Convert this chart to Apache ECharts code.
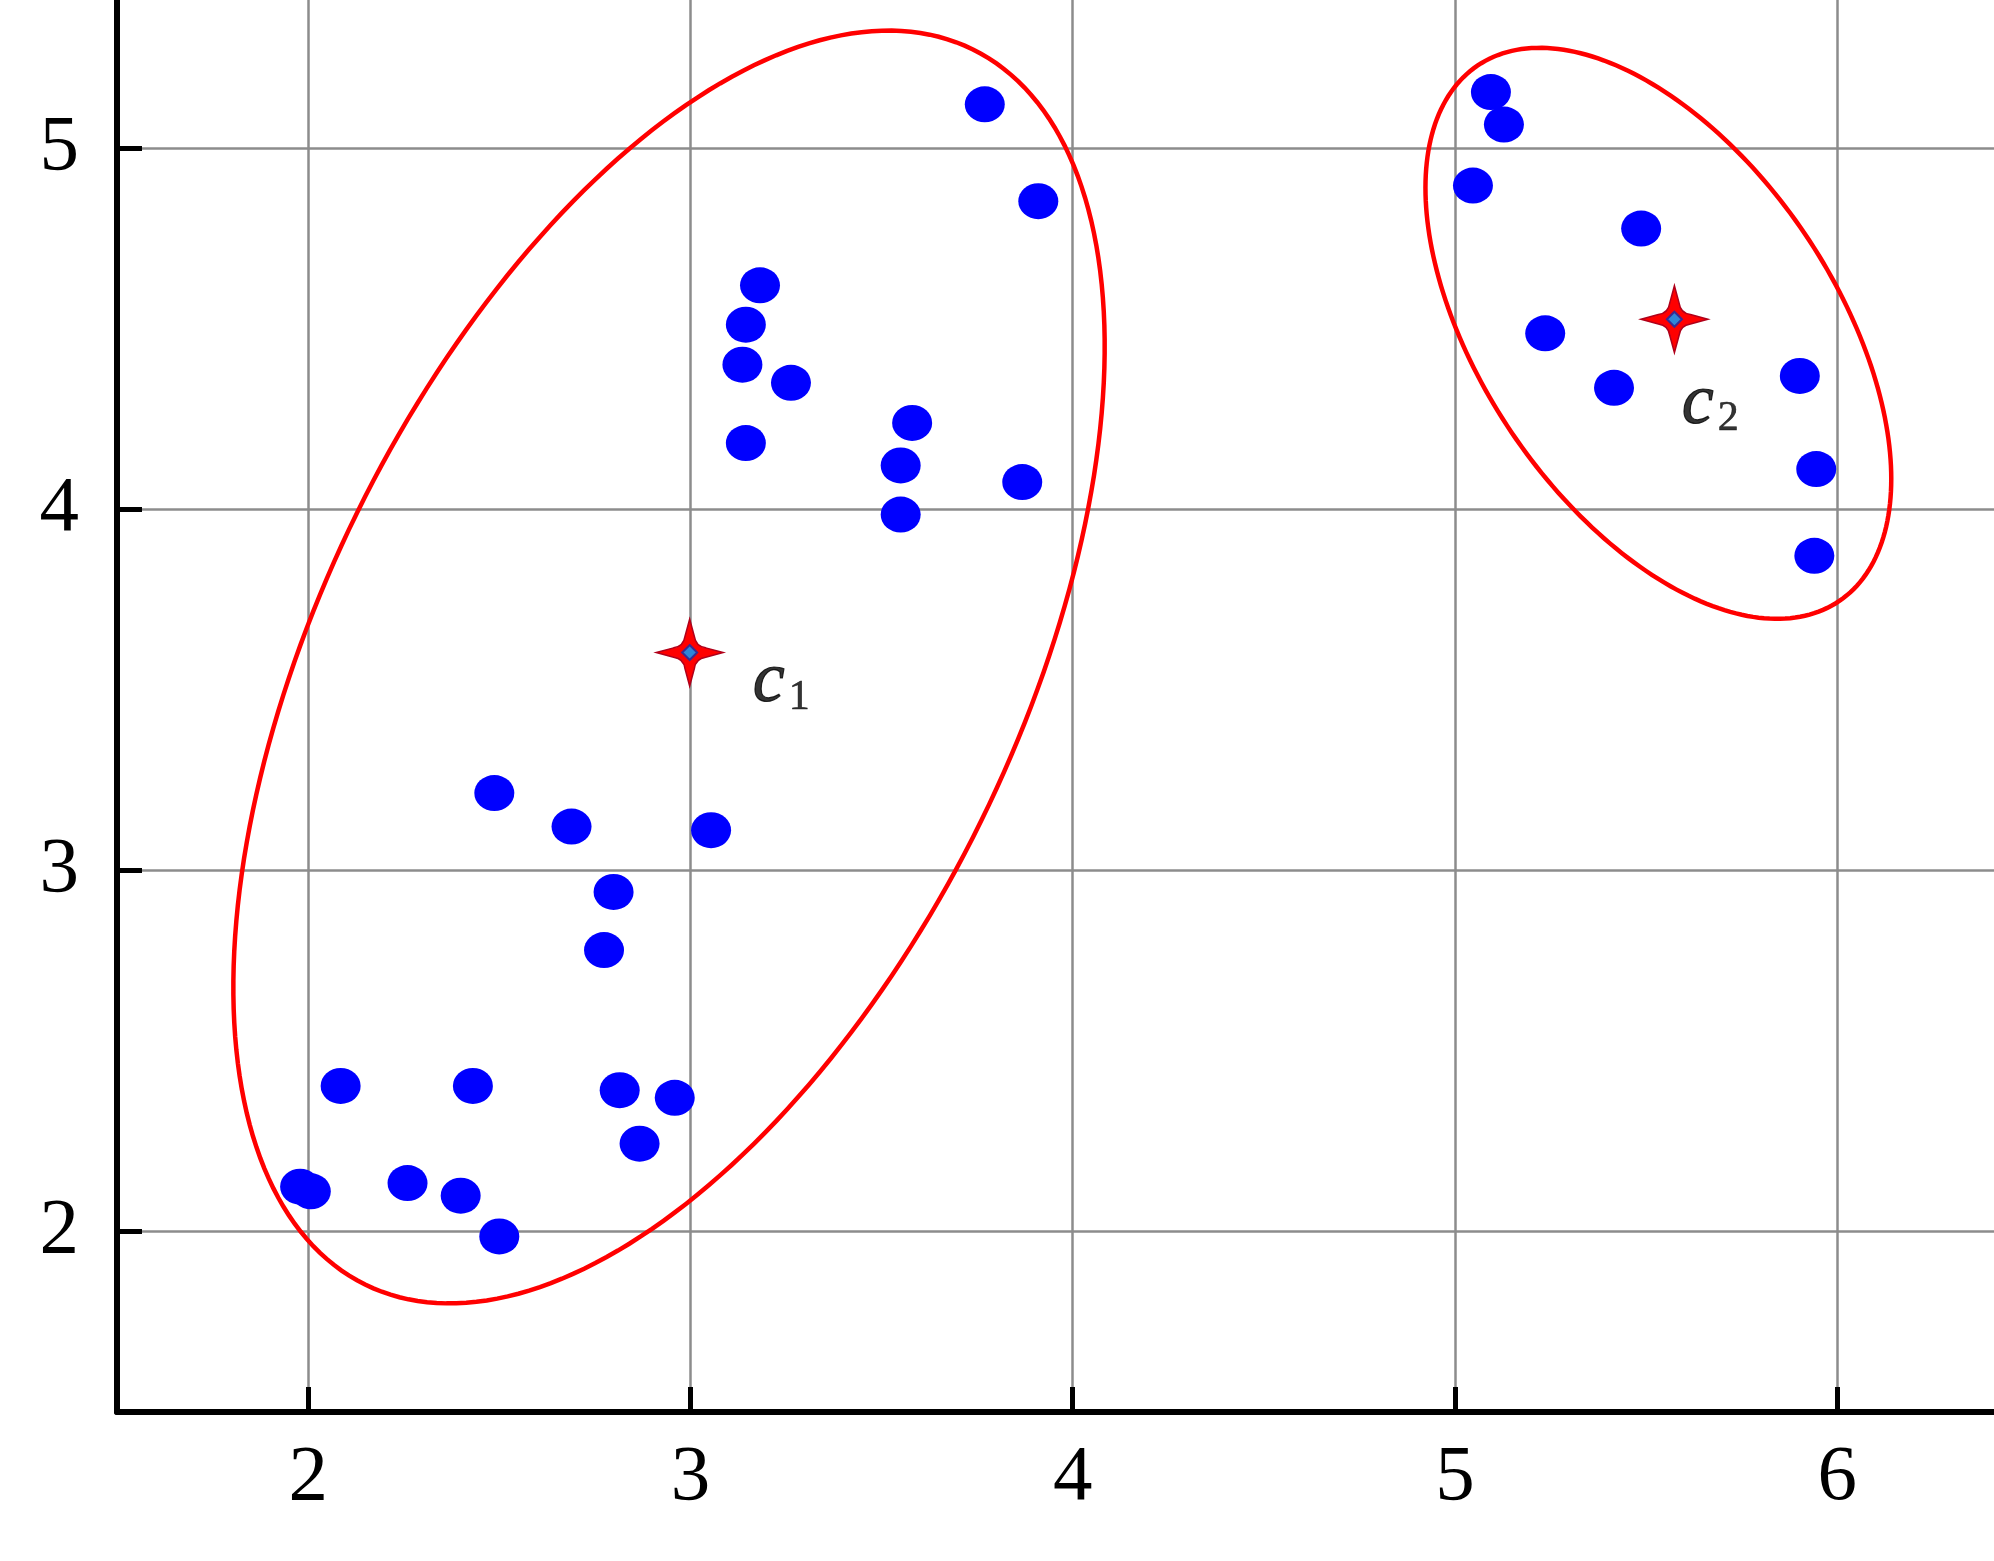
<!DOCTYPE html>
<html><head><meta charset="utf-8">
<script src="https://cdn.jsdelivr.net/npm/echarts@6/dist/echarts.min.js"></script>
<style>html,body{margin:0;padding:0;background:#fff}#chart{width:1994px;height:1561px}</style>
</head><body><div id="chart"></div>
<script>
const xTicks = [2, 3, 4, 5, 6];
const yTicks = [2, 3, 4, 5];
const xRange = [1.5, 6.41];
const yRange = [1.5, 5.41];

const pointX = [3.770, 3.910, 3.182, 3.145, 3.136, 3.263, 3.580, 3.145, 3.550, 3.868, 3.550,
                2.487, 2.689, 3.054, 2.799, 2.774, 2.085, 2.431, 2.815, 2.959, 2.867, 1.979, 2.007, 2.260, 2.399, 2.500,
                5.094, 5.128, 5.047, 5.487, 5.236, 5.416, 5.902, 5.945, 5.940];
const pointY = [5.121, 4.853, 4.620, 4.511, 4.400, 4.350, 4.239, 4.183, 4.121, 4.075, 3.985,
                3.214, 3.121, 3.111, 2.940, 2.779, 2.403, 2.403, 2.391, 2.370, 2.243, 2.124, 2.111, 2.134, 2.099, 1.986,
                5.155, 5.065, 4.896, 4.777, 4.487, 4.336, 4.369, 4.111, 3.871];

const centroidX = [2.998, 5.574];
const centroidY = [3.603, 4.526];
const centroidNames = ['1', '2'];
const labelX = [3.163, 5.593];
const labelY = [3.520, 4.292];

const ellipseCenterX = [2.944, 5.532];
const ellipseCenterY = [3.563, 4.487];
const ellipseAxisA = [[0.795, 1.710], [0.4734, -0.7411]];
const ellipseAxisB = [[-0.8166, 0.4260], [0.3835, 0.2751]];

const serif = "'Liberation Serif', 'Times New Roman', 'DejaVu Serif', serif";
const starPath = 'path://M50,0 L57,26 Q59,41 74,43 L100,50 L74,57 Q59,59 57,74 L50,100 L43,74 Q41,59 26,57 L0,50 L26,43 Q41,41 43,26 Z';

const chart = echarts.init(document.getElementById('chart'), null, {renderer: 'canvas'});
chart.setOption({
  backgroundColor: '#ffffff',
  animation: false,
  grid: {left: 117, right: 0, top: 0, bottom: 149, containLabel: false},
  xAxis: {
    type: 'value', min: xRange[0], max: xRange[1],
    axisLine: {show: true, onZero: false, lineStyle: {color: '#000', width: 6}},
    axisTick: {show: true, inside: true, length: 25, customValues: xTicks, lineStyle: {color: '#000', width: 5}},
    axisLabel: {customValues: xTicks, fontFamily: serif, fontSize: 79, color: '#000', margin: 27},
    splitLine: {show: true, lineStyle: {color: '#8c8c8c', width: 2.5}}
  },
  yAxis: {
    type: 'value', min: yRange[0], max: yRange[1],
    axisLine: {show: true, onZero: false, lineStyle: {color: '#000', width: 6}},
    axisTick: {show: true, inside: true, length: 25, customValues: yTicks, lineStyle: {color: '#000', width: 5}},
    axisLabel: {customValues: yTicks, fontFamily: serif, fontSize: 79, color: '#000', margin: 38},
    splitLine: {show: true, lineStyle: {color: '#8c8c8c', width: 2.5}}
  },
  series: [
    {
      type: 'custom', silent: true, z: 2,
      data: ellipseCenterX.map((cx, i) => [cx, ellipseCenterY[i], i]),
      encode: {x: 0, y: 1},
      renderItem: function (params, api) {
        const i = api.value(2);
        const cx = api.value(0), cy = api.value(1);
        const a = ellipseAxisA[i], b = ellipseAxisB[i];
        const pts = [];
        for (let k = 0; k < 240; k++) {
          const t = k / 240 * 2 * Math.PI;
          pts.push(api.coord([cx + a[0] * Math.cos(t) + b[0] * Math.sin(t),
                              cy + a[1] * Math.cos(t) + b[1] * Math.sin(t)]));
        }
        return {type: 'polygon', shape: {points: pts}, style: {fill: 'none', stroke: '#ff0000', lineWidth: 4.5}};
      }
    },
    {
      type: 'scatter', z: 3,
      data: pointX.map((x, i) => [x, pointY[i]]),
      symbol: 'circle', symbolSize: [40, 36],
      itemStyle: {color: '#0000ff', opacity: 1}
    },
    {
      type: 'scatter', z: 4,
      data: centroidX.map((x, i) => [x, centroidY[i]]),
      symbol: starPath,
      symbolSize: 67,
      itemStyle: {color: '#ff0000', borderColor: '#b0001a', borderWidth: 1.5, opacity: 1}
    },
    {
      type: 'scatter', z: 5,
      data: centroidX.map((x, i) => [x, centroidY[i]]),
      symbol: 'diamond', symbolSize: 15,
      itemStyle: {color: '#2f86d8', borderColor: '#3a2a90', borderWidth: 2, opacity: 1}
    },
    {
      type: 'scatter', z: 6,
      data: labelX.map((x, i) => [x, labelY[i]]),
      symbolSize: 0,
      label: {
        show: true, position: 'right', distance: 0,
        formatter: function (p) { return '{c|c}{s|' + centroidNames[p.dataIndex] + '}'; },
        rich: {
          c: {fontFamily: serif, fontStyle: 'italic', fontSize: 72, lineHeight: 72, color: '#000',
              textBorderColor: '#000', textBorderWidth: 1.2, verticalAlign: 'top'},
          s: {fontFamily: serif, fontSize: 42, lineHeight: 42, color: '#000',
              textBorderColor: '#000', textBorderWidth: 0.6, padding: [34, 0, 0, 4], verticalAlign: 'bottom'}
        }
      }
    }
  ]
});
</script>
</body></html>
